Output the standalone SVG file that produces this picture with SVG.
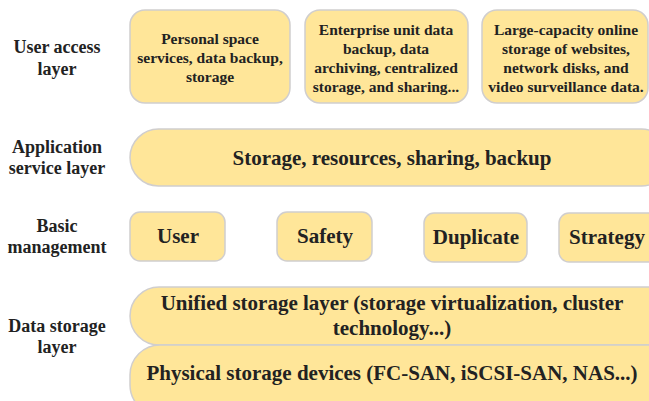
<svg xmlns="http://www.w3.org/2000/svg" width="649" height="401" viewBox="0 0 649 401">
  <style>
    .box { fill: #ffe699; stroke: #d0cece; stroke-width: 1.5; }
    .t { font-family: "Liberation Serif", serif; font-weight: bold; fill: #222; text-anchor: middle; dominant-baseline: central; }
    .lbl { font-size: 18px; }
    .sm { font-size: 15.5px; }
    .lg { font-size: 21px; }
  </style>
  <rect width="649" height="401" fill="#ffffff"/>

  <!-- layer labels -->
  <g id="labels">
    <text class="t lbl" x="57" y="47">User access</text>
    <text class="t lbl" x="57" y="69">layer</text>
    <text class="t lbl" x="57" y="147">Application</text>
    <text class="t lbl" x="57" y="168">service layer</text>
    <text class="t lbl" x="57" y="226">Basic</text>
    <text class="t lbl" x="57" y="247">management</text>
    <text class="t lbl" x="57" y="326">Data storage</text>
    <text class="t lbl" x="57" y="347">layer</text>
  </g>

  <!-- user access layer -->
  <g id="personal">
    <rect class="box" x="130" y="10" width="160" height="93" rx="15"/>
    <text class="t sm" x="210" y="38">Personal space</text>
    <text class="t sm" x="210" y="57">services, data backup,</text>
    <text class="t sm" x="210" y="76">storage</text>
  </g>
  <g id="enterprise">
    <rect class="box" x="305" y="10" width="163" height="93" rx="15"/>
    <text class="t sm" x="386" y="29">Enterprise unit data</text>
    <text class="t sm" x="386" y="48">backup, data</text>
    <text class="t sm" x="386" y="67">archiving, centralized</text>
    <text class="t sm" x="386" y="86">storage, and sharing...</text>
  </g>
  <g id="online">
    <rect class="box" x="482" y="10" width="166" height="93" rx="15"/>
    <text class="t sm" x="566" y="29">Large-capacity online</text>
    <text class="t sm" x="566" y="48">storage of websites,</text>
    <text class="t sm" x="566" y="67">network disks, and</text>
    <text class="t sm" x="566" y="86">video surveillance data.</text>
  </g>

  <!-- application service layer -->
  <g id="app-service">
    <rect class="box" x="130" y="129" width="540" height="57" rx="28.5"/>
    <text class="t lg" x="392" y="158">Storage, resources, sharing, backup</text>
  </g>

  <!-- basic management -->
  <g id="user">
    <rect class="box" x="130" y="212" width="95" height="49" rx="10"/>
    <text class="t lg" x="178" y="236">User</text>
  </g>
  <g id="safety">
    <rect class="box" x="277" y="212" width="95" height="49" rx="10"/>
    <text class="t lg" x="325" y="236">Safety</text>
  </g>
  <g id="duplicate">
    <rect class="box" x="424" y="213" width="103" height="49" rx="10"/>
    <text class="t lg" x="476" y="237">Duplicate</text>
  </g>
  <g id="strategy">
    <rect class="box" x="559" y="213" width="100" height="49" rx="10"/>
    <text class="t lg" x="607" y="237">Strategy</text>
  </g>

  <!-- data storage layer -->
  <g id="unified">
    <rect class="box" x="130" y="287" width="560" height="58" rx="29"/>
    <text class="t lg" x="392" y="303">Unified storage layer (storage virtualization, cluster</text>
    <text class="t lg" x="392" y="328">technology...)</text>
  </g>
  <g id="physical">
    <rect class="box" x="130" y="345" width="560" height="70" rx="30"/>
    <text class="t lg" x="392" y="373">Physical storage devices (FC-SAN, iSCSI-SAN, NAS...)</text>
  </g>

  <g id="connectors"></g>
</svg>
